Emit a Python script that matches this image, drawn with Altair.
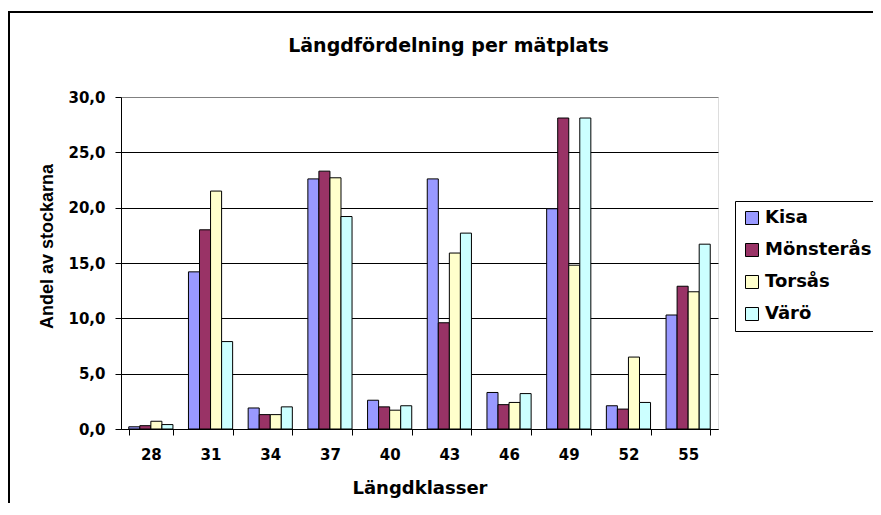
import altair as alt
import pandas as pd

classes = ["28", "31", "34", "37", "40", "43", "46", "49", "52", "55"]
sites = ["Kisa", "Mönsterås", "Torsås", "Värö"]
kisa = [0.2, 14.2, 1.9, 22.6, 2.6, 22.6, 3.3, 19.9, 2.1, 10.3]
monsteras = [0.3, 18.0, 1.3, 23.3, 2.0, 9.6, 2.2, 28.1, 1.8, 12.9]
torsas = [0.7, 21.5, 1.3, 22.7, 1.7, 15.9, 2.4, 14.8, 6.5, 12.4]
varo = [0.4, 7.9, 2.0, 19.2, 2.1, 17.7, 3.2, 28.1, 2.4, 16.7]
colors = ["#9999FF", "#993366", "#FFFFCC", "#CCFFFF"]
y_ticks = [0, 5, 10, 15, 20, 25, 30]

rows = []
for site, vals in zip(sites, [kisa, monsteras, torsas, varo]):
    for k, v in zip(classes, vals):
        rows.append({"klass": k, "plats": site, "andel": v})
df = pd.DataFrame(rows)

WIDE = "DejaVu Sans"
ARIAL = "Liberation Sans"

frame = alt.Chart(pd.DataFrame({"a": [0]})).mark_rect(
    fill=None, stroke="black", strokeWidth=2
).encode(
    x=alt.value(-112), x2=alt.value(800), y=alt.value(-85), y2=alt.value(450)
)

bars = alt.Chart(df).mark_bar(stroke="black", strokeWidth=1).encode(
    x=alt.X(
        "klass:N", sort=classes,
        scale=alt.Scale(paddingInner=0.26, paddingOuter=0.13),
        axis=alt.Axis(
            title="Längdklasser", labelAngle=0, tickBand="extent", grid=False,
            labelFont=WIDE, labelFontSize=15, labelFontWeight="bold", labelColor="black",
            labelPadding=12, tickSize=6, tickColor="black", domainColor="black",
            titleFont=WIDE, titleFontSize=18, titleFontWeight="bold", titleColor="black",
            titleBaseline="alphabetic", titleY=64, titleAnchor="middle",
        ),
    ),
    xOffset=alt.XOffset("plats:N", sort=sites),
    y=alt.Y(
        "andel:Q",
        scale=alt.Scale(domain=[0, 30], nice=False),
        axis=alt.Axis(
            title="Andel av stockarna", values=y_ticks,
            labelExpr="replace(format(datum.value, '.1f'), '.', ',')",
            labelFont=WIDE, labelFontSize=15, labelFontWeight="bold", labelColor="black",
            labelPadding=10, tickSize=6, tickColor="black", domainColor="black",
            gridColor={"condition": {"test": "datum.value == 30", "value": "#808080"}, "value": "black"},
            gridWidth=1,
            titleFont=ARIAL, titleFontSize=18, titleFontWeight="bold", titleColor="black",
            titleAngle=270, titleX=-74, titleY=149, titleAlign="center", titleBaseline="middle",
        ),
    ),
    color=alt.Color(
        "plats:N", sort=sites,
        scale=alt.Scale(domain=sites, range=colors),
        legend=alt.Legend(
            title=None, orient="none", legendX=614, legendY=104,
            fillColor="white", strokeColor="black", padding=8,
            symbolType="square", symbolSize=169, symbolStrokeColor="black",
            symbolStrokeWidth=1, symbolOpacity=1,
            labelFont=WIDE, labelFontSize=18, labelFontWeight="bold", labelColor="black",
            labelOffset=4, rowPadding=14,
        ),
    ),
)

chart = alt.layer(frame, bars).properties(
    width=597, height=332,
    autosize=alt.AutoSizeParams(type="none"),
    padding={"left": 113, "top": 89, "right": 155, "bottom": 74},
    title=alt.TitleParams(
        text="Längdfördelning per mätplats", font=WIDE, fontSize=19, fontWeight="bold",
        color="black", anchor="middle", dx=29, dy=60, offset=0, baseline="alphabetic",
    ),
).configure_view(
    fill="#C0C0C0", stroke="#808080", strokeWidth=1
).configure(background="white")

chart.save("out.html", embed_options={"renderer": "svg", "actions": False})
